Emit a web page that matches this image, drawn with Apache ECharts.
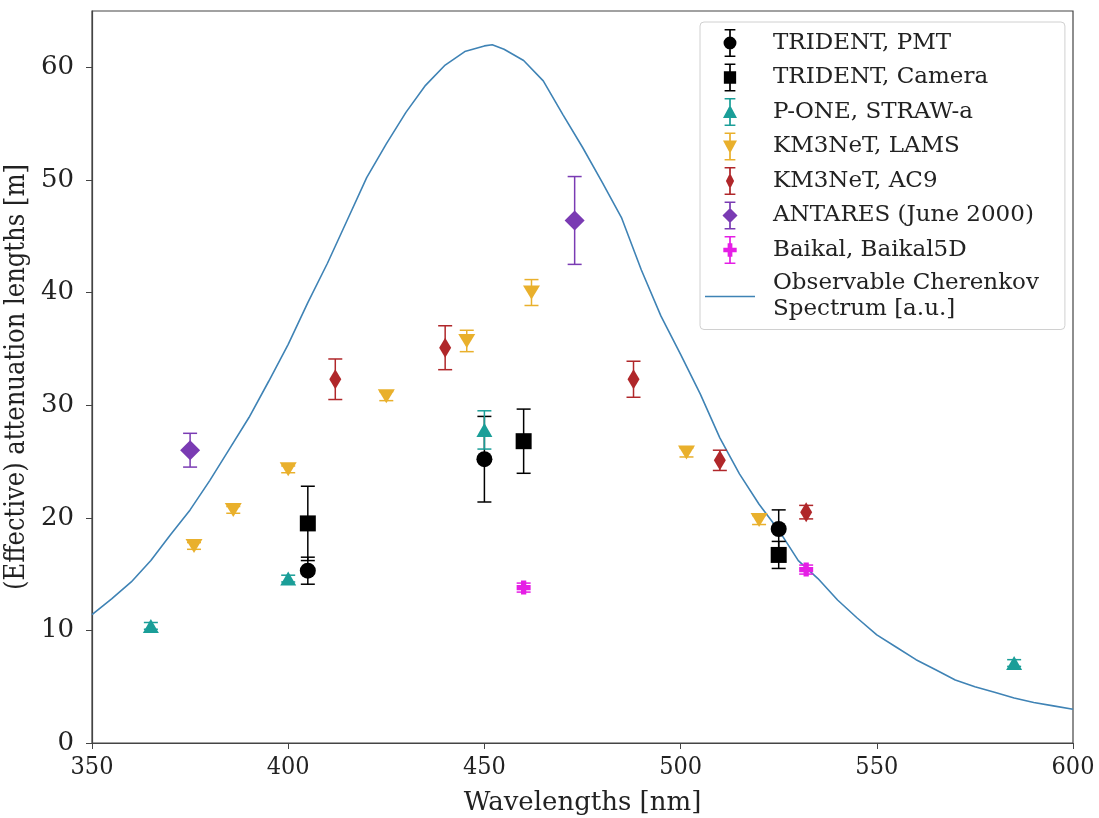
<!DOCTYPE html>
<html>
<head>
<meta charset="utf-8">
<script src="https://cdn.jsdelivr.net/npm/echarts@6/dist/echarts.min.js"></script>
<style>
html,body{margin:0;padding:0;background:#fff;}
#chart{width:1099px;height:818px;}
</style>
</head>
<body>
<div id="chart"></div>
<script>
// ---- Data ----
const xTicks = [350, 400, 450, 500, 550, 600];
const yTicks = [0, 10, 20, 30, 40, 50, 60];

const pmtX = [405, 450, 525];
const pmtY = [15.3, 25.2, 19.0];
const pmtErr = [1.2, 3.8, 1.7];

const camX = [405, 460, 525];
const camY = [19.5, 26.8, 16.7];
const camErr = [3.3, 2.85, 1.2];

const poneX = [365, 400, 450, 585];
const poneY = [10.4, 14.6, 27.8, 7.1];
const poneErr = [0.3, 0.3, 1.7, 0.3];

const lamsX = [376, 386, 400, 425, 445.5, 462, 501.5, 520];
const lamsY = [17.5, 20.7, 24.3, 30.8, 35.7, 40.0, 25.8, 19.8];
const lamsErr = [0.3, 0.3, 0.3, 0.4, 0.95, 1.15, 0.4, 0.4];

const ac9X = [412, 440, 488, 510, 532];
const ac9Y = [32.3, 35.1, 32.3, 25.1, 20.5];
const ac9Err = [1.8, 1.95, 1.6, 0.9, 0.6];

const antaresX = [375, 473];
const antaresY = [26.0, 46.4];
const antaresErr = [1.5, 3.9];

const baikalX = [460, 532];
const baikalY = [13.8, 15.4];
const baikalErr = [0.4, 0.4];

const specX = [350,355,360,365,370,375,380,385,390,395,400,405,410,415,420,425,430,435,440,445,450,452,455,460,465,470,475,480,485,490,495,500,505,510,515,520,525,530,535,540,545,550,555,560,565,570,575,580,585,590,595,600];
const specY = [11.4,12.8,14.3,16.2,18.5,20.7,23.3,26.1,28.9,32.1,35.4,39.1,42.6,46.4,50.2,53.2,56.0,58.4,60.2,61.4,61.9,62.0,61.6,60.6,58.8,55.8,52.9,49.8,46.6,42.0,37.9,34.5,31.0,27.1,23.9,21.2,18.9,16.2,14.6,12.7,11.1,9.6,8.5,7.4,6.5,5.6,5.0,4.5,4.0,3.6,3.3,3.0];

const names = ['TRIDENT, PMT','TRIDENT, Camera','P-ONE, STRAW-a','KM3NeT, LAMS','KM3NeT, AC9','ANTARES (June 2000)','Baikal, Baikal5D'];
const specName = 'Observable Cherenkov\nSpectrum [a.u.]';

// ---- Styles ----
const colors = ['#000000','#000000','#1a9e98','#e9b02c','#b0272a','#7a3bb3','#e51ee5'];
const lineColor = '#3f83b5';
const plusPath = 'path://M5,0H11V5H16V11H11V16H5V11H0V5H5Z';
const symbols = [
  {symbol:'circle', size:16, rot:0},
  {symbol:'rect', size:16, rot:0},
  {symbol:'triangle', size:[16,14], rot:0},
  {symbol:'triangle', size:[17,14], rot:180},
  {symbol:'diamond', size:[12,20], rot:0},
  {symbol:'diamond', size:20, rot:0},
  {symbol:plusPath, size:14, rot:0}
];
const bar = 'M7.2,0H8.8V26H7.2Z M3,0H13V1.5H3Z M3,24.5H13V26H3Z ';
const legendIcons = [
  'path://' + bar + 'M2,13a6,6 0 1,1 12,0a6,6 0 1,1 -12,0Z',
  'path://' + bar + 'M2.3,7.3H13.7V18.7H2.3Z',
  'path://' + bar + 'M8,6.5L14.5,18.5H1.5Z',
  'path://' + bar + 'M1.5,7.5H14.5L8,19.5Z',
  'path://' + bar + 'M8,5.5L11.8,13L8,20.5L4.2,13Z',
  'path://' + bar + 'M8,6L15,13L8,20L1,13Z',
  'path://' + bar + 'M5.8,6.8H10.2V10.8H14.2V15.2H10.2V19.2H5.8V15.2H1.8V10.8H5.8Z'
];

const groups = [
  [pmtX, pmtY, pmtErr], [camX, camY, camErr], [poneX, poneY, poneErr],
  [lamsX, lamsY, lamsErr], [ac9X, ac9Y, ac9Err], [antaresX, antaresY, antaresErr],
  [baikalX, baikalY, baikalErr]
];

function errorRender(color) {
  return function (params, api) {
    const x = api.value(0), y = api.value(1), e = api.value(2);
    const top = api.coord([x, y + e]);
    const bot = api.coord([x, y - e]);
    const half = 7;
    const st = {stroke: color, lineWidth: 1.5};
    return {
      type: 'group',
      children: [
        {type:'line', shape:{x1:top[0], y1:top[1], x2:bot[0], y2:bot[1]}, style:st},
        {type:'line', shape:{x1:top[0]-half, y1:top[1], x2:top[0]+half, y2:top[1]}, style:st},
        {type:'line', shape:{x1:bot[0]-half, y1:bot[1], x2:bot[0]+half, y2:bot[1]}, style:st}
      ]
    };
  };
}

const series = [];
series.push({
  name: specName, type: 'line', symbol: 'none', smooth: false,
  data: specX.map((x, i) => [x, specY[i]]),
  lineStyle: {color: lineColor, width: 1.6},
  itemStyle: {color: lineColor},
  z: 1
});
groups.forEach((g, k) => {
  const [xs, ys, es] = g;
  series.push({
    name: names[k] + ' (err)', type: 'custom',
    renderItem: errorRender(colors[k]),
    data: xs.map((x, i) => [x, ys[i], es[i]]),
    itemStyle: {color: colors[k]},
    z: 2, silent: true
  });
  series.push({
    name: names[k], type: 'scatter',
    symbol: symbols[k].symbol, symbolSize: symbols[k].size, symbolRotate: symbols[k].rot,
    data: xs.map((x, i) => [x, ys[i]]),
    itemStyle: {color: colors[k], opacity: 1},
    z: 3
  });
});

const legendData = names.map((n, k) => ({name: n, icon: legendIcons[k]}));
legendData.push({name: specName, icon: 'path://M0,0H50V1.6H0Z'});

const chart = echarts.init(document.getElementById('chart'), null, {renderer: 'canvas'});
chart.setOption({
  animation: false,
  backgroundColor: '#ffffff',
  grid: {left: 92, right: 26, top: 11, bottom: 75, containLabel: false, outerBoundsMode: 'none',
    show: true, borderColor: '#444', borderWidth: 1.2, backgroundColor: 'transparent'},
  xAxis: {
    type: 'value', min: xTicks[0], max: xTicks[xTicks.length - 1], interval: 50,
    name: 'Wavelengths [nm]', nameLocation: 'middle', nameGap: 47,
    nameTextStyle: {fontFamily: 'DejaVu Serif', fontSize: 26, color: '#222'},
    axisLine: {show: true, lineStyle: {color: '#444', width: 1.2}},
    axisTick: {show: true, inside: false, length: 6, lineStyle: {color: '#444'}},
    axisLabel: {fontFamily: 'DejaVu Serif Condensed', fontSize: 25, color: '#222', margin: 12},
    splitLine: {show: false}
  },
  yAxis: {
    type: 'value', min: yTicks[0], max: 65, interval: 10,
    name: '(Effective) attenuation lengths [m]', nameLocation: 'middle', nameGap: 56, nameRotate: 90,
    nameTextStyle: {fontFamily: 'DejaVu Serif Condensed', fontSize: 27, color: '#222'},
    axisLine: {show: true, lineStyle: {color: '#444', width: 1.2}},
    axisTick: {show: true, inside: false, length: 6, lineStyle: {color: '#444'}},
    axisLabel: {fontFamily: 'DejaVu Serif', fontSize: 26, color: '#222', margin: 18, showMaxLabel: false,
      formatter: v => (yTicks.indexOf(v) >= 0 ? String(v) : '')},
    splitLine: {show: false}
  },
  legend: {
    data: legendData,
    orient: 'vertical', left: 700, top: 22,
    padding: [7, 26, 7, 5],
    itemWidth: 50, itemHeight: 28, itemGap: 6.5,
    backgroundColor: 'rgba(255,255,255,0.85)',
    borderColor: '#d0d0d0', borderWidth: 1, borderRadius: 4,
    selectedMode: false,
    textStyle: {fontFamily: 'DejaVu Serif', fontSize: 23, color: '#222', lineHeight: 26,
      rich: {p: {width: 13}}},
    formatter: name => name.split('\n').map(s => '{p|}' + s).join('\n')
  },
  series: series
});
</script>
</body>
</html>
